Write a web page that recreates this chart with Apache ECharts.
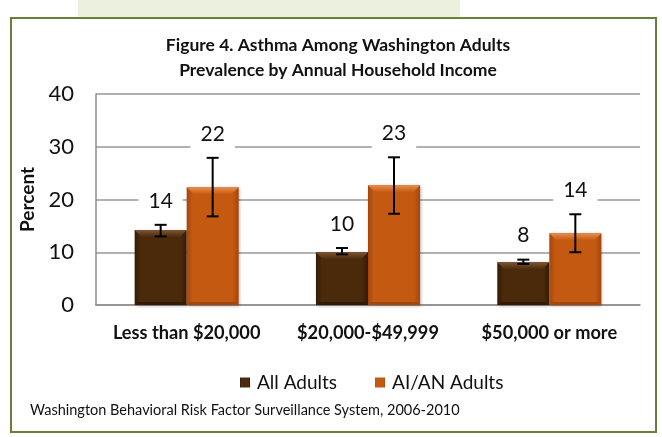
<!DOCTYPE html>
<html>
<head>
<meta charset="utf-8">
<script src="https://cdn.jsdelivr.net/npm/echarts@6/dist/echarts.min.js"></script>
<style>
html,body{margin:0;padding:0;background:#fff;}
#c{width:662px;height:437px;}
</style>
</head>
<body>
<div id="c"></div>
<script>
// ---- data ----
const categories = ['Less than $20,000', '$20,000-$49,999', '$50,000 or more'];
const seriesNames = ['All Adults', 'AI/AN Adults'];
const allAdults = [14.2, 10.0, 8.1];
const allAdultsLow = [13.0, 9.6, 7.8];
const allAdultsHigh = [15.2, 10.8, 8.6];
const aianAdults = [22.3, 22.7, 13.6];
const aianAdultsLow = [16.8, 17.3, 10.0];
const aianAdultsHigh = [27.9, 28.0, 17.2];
const yTicks = [0, 10, 20, 30, 40];
const titleLines = ['Figure 4. Asthma Among Washington Adults', 'Prevalence by Annual Household Income'];
const footnote = 'Washington Behavioral Risk Factor Surveillance System, 2006-2010';

const FONT = 'Lato, Carlito, "Open Sans", sans-serif';
const BAR_W = 52;

function hGrad(edge, mid) {
  return new echarts.graphic.LinearGradient(0, 0, 1, 0, [
    {offset: 0, color: edge}, {offset: 0.12, color: mid},
    {offset: 0.88, color: mid}, {offset: 1, color: edge}
  ]);
}
const brown = {edge: '#331b05', mid: '#4b2a0b', top: '#7d5634'};
const orange = {edge: '#a4470b', mid: '#c45a12', top: '#e98d4d'};

function overlay(vals, lows, highs, offsetSign, pal) {
  return {
    type: 'custom',
    z: 5,
    silent: true,
    data: vals.map((v, i) => [i, v, lows[i], highs[i]]),
    renderItem: function (params, api) {
      const i = api.value(0);
      const c = api.coord([i, api.value(1)]);
      const base = api.coord([i, 0]);
      const lo = api.coord([i, api.value(2)]);
      const hi = api.coord([i, api.value(3)]);
      const x0 = c[0] + (offsetSign < 0 ? -BAR_W : 0);
      const x1 = x0 + BAR_W;
      const xc = (x0 + x1) / 2;
      const yt = c[1];
      const b = 7;
      const cap = 6;
      const label = String(Math.round(api.value(1)));
      return {
        type: 'group',
        children: [
          {type: 'polygon', shape: {points: [[x0, yt], [x1, yt], [x1 - b, yt + b], [x0 + b, yt + b]]},
            style: {fill: new echarts.graphic.LinearGradient(0, 0, 0, 1, [{offset: 0, color: pal.top}, {offset: 1, color: pal.mid}])}},
          {type: 'polygon', shape: {points: [[x0, base[1]], [x1, base[1]], [x1 - 3, base[1] - 3], [x0 + 3, base[1] - 3]]},
            style: {fill: pal.edge}},
          {type: 'line', shape: {x1: xc, y1: lo[1], x2: xc, y2: hi[1]}, style: {stroke: '#000', lineWidth: 2}},
          {type: 'line', shape: {x1: xc - cap, y1: lo[1], x2: xc + cap, y2: lo[1]}, style: {stroke: '#000', lineWidth: 2}},
          {type: 'line', shape: {x1: xc - cap, y1: hi[1], x2: xc + cap, y2: hi[1]}, style: {stroke: '#000', lineWidth: 2}},
          {type: 'text', x: xc, y: hi[1] - 24,
            style: {text: label, fill: '#111', font: '21px ' + FONT, align: 'center', verticalAlign: 'middle',
              backgroundColor: '#fff', padding: [3, 10, 6, 10]}}
        ]
      };
    }
  };
}

const chart = echarts.init(document.getElementById('c'), null, {renderer: 'canvas'});
chart.setOption({
  animation: false,
  backgroundColor: '#fff',
  graphic: [
    {type: 'rect', shape: {x: 78, y: 0, width: 382, height: 18}, style: {fill: '#ebf1de'}, z: -10},
    {type: 'rect', shape: {x: 11, y: 18, width: 645, height: 414}, style: {fill: '#fff', stroke: '#6a8038', lineWidth: 2}, z: -9},
    {type: 'text', x: 338, y: 33, style: {text: titleLines.join('\n'), font: 'bold 17.5px ' + FONT, fill: '#111', align: 'center', lineHeight: 25}},
    {type: 'text', left: 30, top: 403, style: {text: footnote, font: '14.5px ' + FONT, fill: '#111'}}
  ],
  legend: {
    data: seriesNames,
    bottom: 40,
    left: 235,
    itemWidth: 10, itemHeight: 10, itemGap: 38,
    icon: 'rect',
    textStyle: {fontFamily: FONT, fontSize: 19, color: '#111', padding: [0, 0, 0, 2]}
  },
  grid: {left: 96, right: 22, top: 94, bottom: 132},
  xAxis: {
    type: 'category',
    data: categories,
    axisLine: {lineStyle: {color: '#8c8c8c', width: 1.5}},
    axisTick: {show: false},
    axisLabel: {interval: 0, fontFamily: FONT, fontSize: 18.2, fontWeight: 'bold', color: '#111', margin: 19}
  },
  yAxis: {
    type: 'value',
    min: yTicks[0], max: yTicks[yTicks.length - 1], interval: yTicks[1] - yTicks[0],
    name: 'Percent',
    nameLocation: 'middle',
    nameGap: 53,
    nameTextStyle: {fontFamily: FONT, fontSize: 19, fontWeight: 'bold', color: '#111'},
    axisLine: {show: true, lineStyle: {color: '#8c8c8c', width: 1.5}},
    axisTick: {show: false},
    splitLine: {lineStyle: {color: '#999', width: 1.5}},
    axisLabel: {fontFamily: FONT, fontSize: 22, color: '#111', margin: 22}
  },
  series: [
    {name: seriesNames[0], type: 'bar', data: allAdults, barWidth: BAR_W, barGap: '0%',
      itemStyle: {color: hGrad(brown.edge, brown.mid), shadowColor: 'rgba(0,0,0,0.3)', shadowBlur: 3, shadowOffsetX: 1, shadowOffsetY: 1}},
    {name: seriesNames[1], type: 'bar', data: aianAdults, barWidth: BAR_W, barGap: '0%',
      itemStyle: {color: hGrad(orange.edge, orange.mid), shadowColor: 'rgba(0,0,0,0.3)', shadowBlur: 3, shadowOffsetX: 1, shadowOffsetY: 1}},
    overlay(allAdults, allAdultsLow, allAdultsHigh, -1, brown),
    overlay(aianAdults, aianAdultsLow, aianAdultsHigh, 1, orange)
  ]
});
</script>
</body>
</html>
